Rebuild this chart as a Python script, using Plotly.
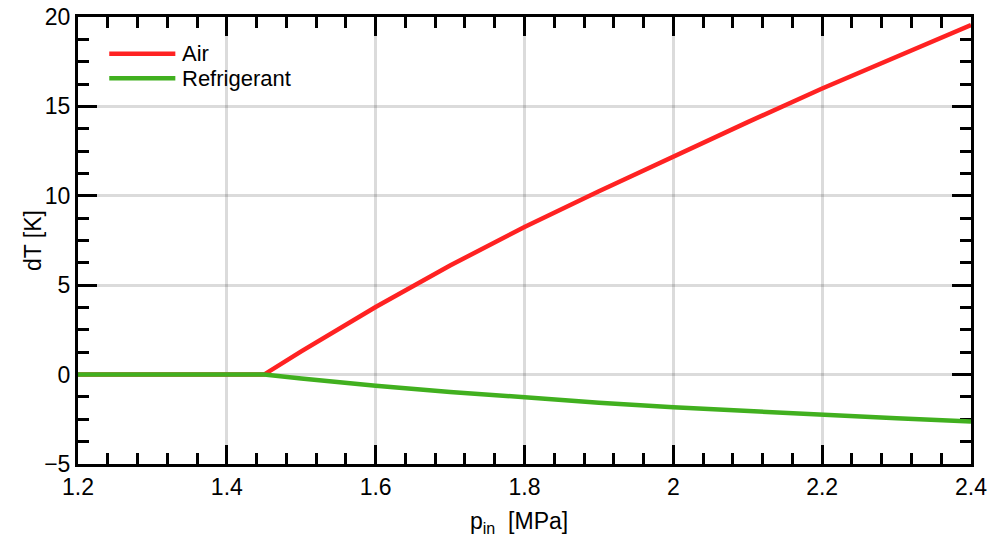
import plotly.graph_objects as go

# Inlet pressure [MPa] and temperature differences [K]
p_in = [1.20, 1.30, 1.40, 1.45, 1.50, 1.55, 1.60, 1.70, 1.80, 1.90, 2.00, 2.10, 2.20, 2.30, 2.40]
dT_air = [0.0, 0.0, 0.0, 0.0, 1.30, 2.56, 3.78, 6.10, 8.26, 10.25, 12.20, 14.12, 16.00, 17.80, 19.55]
dT_refrigerant = [0.0, 0.0, 0.0, 0.0, -0.22, -0.43, -0.62, -0.97, -1.28, -1.57, -1.83, -2.05, -2.25, -2.44, -2.62]

series_names = ["Air", "Refrigerant"]
series_colors = ["#ff2222", "#41b01f"]

FONT = "Liberation Sans, Arial, sans-serif"
FS = 23

fig = go.Figure()
for name, ys, col in zip(series_names, [dT_air, dT_refrigerant], series_colors):
    fig.add_trace(go.Scatter(x=p_in, y=ys, mode="lines", name=name,
                             line=dict(color=col, width=4.5), showlegend=False))

axis_common = dict(
    showline=True, linecolor="black", linewidth=3, mirror="allticks",
    ticks="inside", ticklen=19, tickwidth=3, tickcolor="black",
    showgrid=True, gridcolor="rgba(0,0,0,0.14)", gridwidth=2.5,
    zeroline=False, layer="below traces", automargin=False,
    tickfont=dict(size=FS, color="black", family=FONT),
)

fig.update_xaxes(range=[1.2, 2.4], tick0=1.2, dtick=0.2, tickformat="~g",
                 minor=dict(dtick=0.04, ticks="inside", ticklen=11, tickwidth=3,
                            tickcolor="black", showgrid=False),
                 **axis_common)
fig.update_yaxes(range=[-5, 20], tick0=-5, dtick=5,
                 minor=dict(dtick=1.25, ticks="inside", ticklen=11, tickwidth=3,
                            tickcolor="black", showgrid=False),
                 **axis_common)

# Axis titles
fig.add_annotation(xref="paper", yref="paper", x=0.494, y=-0.093, xanchor="center", yanchor="top",
                   text="p<sub>in</sub>  [MPa]", showarrow=False,
                   font=dict(size=FS, family=FONT, color="black"))
fig.add_annotation(xref="paper", yref="paper", x=-0.051, y=0.5, xanchor="center", yanchor="middle",
                   text="dT [K]", textangle=-90, showarrow=False,
                   font=dict(size=FS, family=FONT, color="black"))

# Legend drawn in the upper-left corner of the plot area
legend_rows = [0.918, 0.863]
for name, col, yy in zip(series_names, series_colors, legend_rows):
    fig.add_shape(type="line", xref="paper", yref="paper", x0=0.035, x1=0.109, y0=yy, y1=yy,
                  line=dict(color=col, width=4.5))
    fig.add_annotation(xref="paper", yref="paper", x=0.114, y=yy, text=name, showarrow=False,
                       xanchor="left", yanchor="middle",
                       font=dict(size=FS - 1, family=FONT, color="black"))

fig.update_layout(
    width=992, height=537,
    margin=dict(l=78, r=21, t=17, b=73),
    plot_bgcolor="white", paper_bgcolor="white",
    font=dict(family=FONT, color="black"),
)

fig.write_html("out.html")
